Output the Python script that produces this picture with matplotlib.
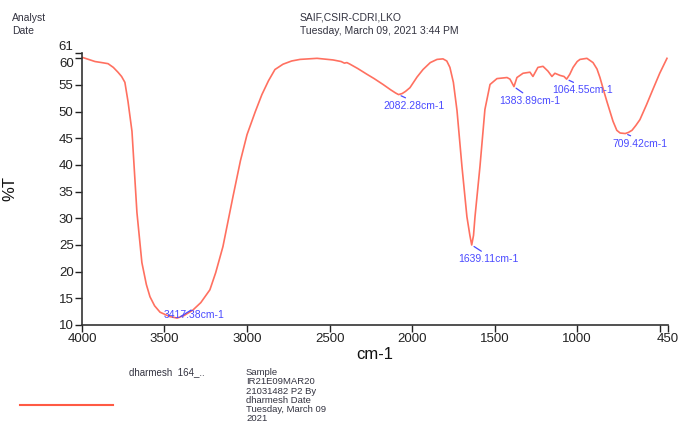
import matplotlib
matplotlib.use("Agg")
import matplotlib.pyplot as plt

plt.rcParams['font.family'] = ['Liberation Sans', 'DejaVu Sans']

# spectrum (wavenumber cm-1, %T)
wavenumber = [4000, 3960, 3921, 3880, 3842, 3810, 3782, 3760, 3740, 3721, 3697, 3667, 3637,
              3610, 3588, 3560, 3527, 3470, 3424, 3380, 3328, 3280, 3225, 3190, 3146, 3085,
              3040, 3000, 2950, 2910, 2870, 2831, 2782, 2730, 2679, 2576, 2479, 2430, 2410,
              2395, 2376, 2330, 2273, 2230, 2176, 2130, 2100, 2082, 2060, 2040, 2013, 1970,
              1934, 1890, 1849, 1813, 1790, 1771, 1750, 1728, 1698, 1668, 1650, 1639, 1628,
              1619, 1589, 1559, 1528, 1486, 1425, 1407, 1395, 1383, 1365, 1328, 1286, 1268,
              1238, 1207, 1177, 1153, 1135, 1104, 1080, 1064, 1045, 1025, 1000, 983, 941,
              904, 880, 862, 840, 820, 783, 760, 740, 709, 690, 668, 645, 620, 580, 541, 500,
              456]
transmittance = [60.2, 59.8, 59.4, 59.2, 59.0, 58.3, 57.4, 56.6, 55.5, 51.9, 46.3, 31.1, 21.7,
                 17.6, 15.3, 13.6, 12.4, 11.6, 11.3, 11.8, 12.8, 14.2, 16.6, 19.8, 24.7, 34.1,
                 40.8, 45.7, 50.0, 53.2, 55.8, 57.9, 58.9, 59.5, 59.8, 60.0, 59.7, 59.4, 59.1,
                 59.2, 58.9, 58.1, 57.0, 56.2, 55.1, 54.1, 53.5, 53.2, 53.4, 53.8, 54.5, 56.5,
                 57.9, 59.2, 59.8, 59.9, 59.5, 58.3, 55.5, 50.2, 39.7, 30.3, 26.8, 25.0, 26.8,
                 30.3, 39.7, 50.4, 55.1, 56.2, 56.4, 56.1, 55.4, 54.7, 56.4, 57.2, 57.4, 56.6,
                 58.3, 58.5, 57.6, 56.6, 57.2, 56.8, 56.6, 56.1, 57.0, 58.3, 59.4, 59.8, 60.0,
                 59.2, 58.0, 56.4, 54.0, 51.9, 48.2, 46.5, 46.0, 45.9, 46.1, 46.5, 47.4, 48.5,
                 51.3, 54.2, 57.2, 60.0]

peak_wn = [3417.38, 2082.28, 1639.11, 1383.89, 1064.55, 709.42]
peak_t = [11.3, 53.2, 25.0, 54.7, 56.1, 45.9]
peak_offset = [(16, 3), (16, -11), (17, -14), (16, -14), (16, -11), (15, -10)]

x_ticks = [4000, 3500, 3000, 2500, 2000, 1500, 1000, 500, 450]
x_labels = ['4000', '3500', '3000', '2500', '2000', '1500', '1000', '', '450']
y_ticks = [10, 15, 20, 25, 30, 35, 40, 45, 50, 55, 60, 61]

legend_lines = ['Sample', 'IR21E09MAR20', '21031482 P2 By', 'dharmesh Date',
                'Tuesday, March 09', '2021']

curve_color = '#ff7060'
peak_color = '#4a4aff'
text_color = '#333340'

fig = plt.figure(figsize=(6.83, 4.24), dpi=100)
ax = fig.add_axes([0.12, 0.2335, 0.858, 0.6415])

ax.plot(wavenumber, transmittance, color=curve_color, lw=1.2)

ax.set_xlim(4000, 450)
ax.set_ylim(10, 61)
ax.set_xticks(x_ticks)
ax.set_xticklabels(x_labels)
ax.set_yticks(y_ticks)
ax.tick_params(labelsize=9.5, length=5, width=1, colors='#222222', pad=1)
for sp in ['top', 'right']:
    ax.spines[sp].set_visible(False)
for sp in ['left', 'bottom']:
    ax.spines[sp].set_color('#333333')
    ax.spines[sp].set_linewidth(1.2)

# keep 60 / 61 labels apart like the original
for lab in ax.get_yticklabels():
    if lab.get_text() == '60':
        lab.set_verticalalignment('top')
    elif lab.get_text() == '61':
        lab.set_verticalalignment('bottom')

ax.set_xlabel('cm-1', fontsize=12, color='#111111', labelpad=1)
ax.set_ylabel('%T', fontsize=12, color='#111111', labelpad=30)

for wn, t, off in zip(peak_wn, peak_t, peak_offset):
    ax.annotate('%.2fcm-1' % wn, xy=(wn, t), xytext=off, textcoords='offset pixels',
                ha='center', va='center', fontsize=7.5, color=peak_color,
                arrowprops=dict(arrowstyle='-', color=peak_color, lw=0.9,
                                shrinkA=0, shrinkB=2, relpos=(0.45, 1)))

# header
fig.text(12 / 683, 1 - 18 / 424, 'Analyst', fontsize=7.5, color=text_color, va='center')
fig.text(12 / 683, 1 - 31 / 424, 'Date', fontsize=7.5, color=text_color, va='center')
fig.text(300 / 683, 1 - 18 / 424, 'SAIF,CSIR-CDRI,LKO', fontsize=7.5, color=text_color, va='center')
fig.text(300 / 683, 1 - 31 / 424, 'Tuesday, March 09, 2021 3:44 PM', fontsize=7.5,
         color=text_color, va='center')

# legend block
fig.add_artist(plt.Line2D([20 / 683, 113 / 683], [1 - 405 / 424, 1 - 405 / 424],
                          color='#ff5a44', lw=1.5))
fig.text(129 / 683, 1 - 372 / 424, 'dharmesh  164_..', fontsize=7, color=text_color, va='center')
fig.text(246 / 683, 1 - 368 / 424, '\n'.join(legend_lines), fontsize=6.8, color=text_color,
         va='top', linespacing=1.04)

fig.savefig('out.png', dpi=100)
